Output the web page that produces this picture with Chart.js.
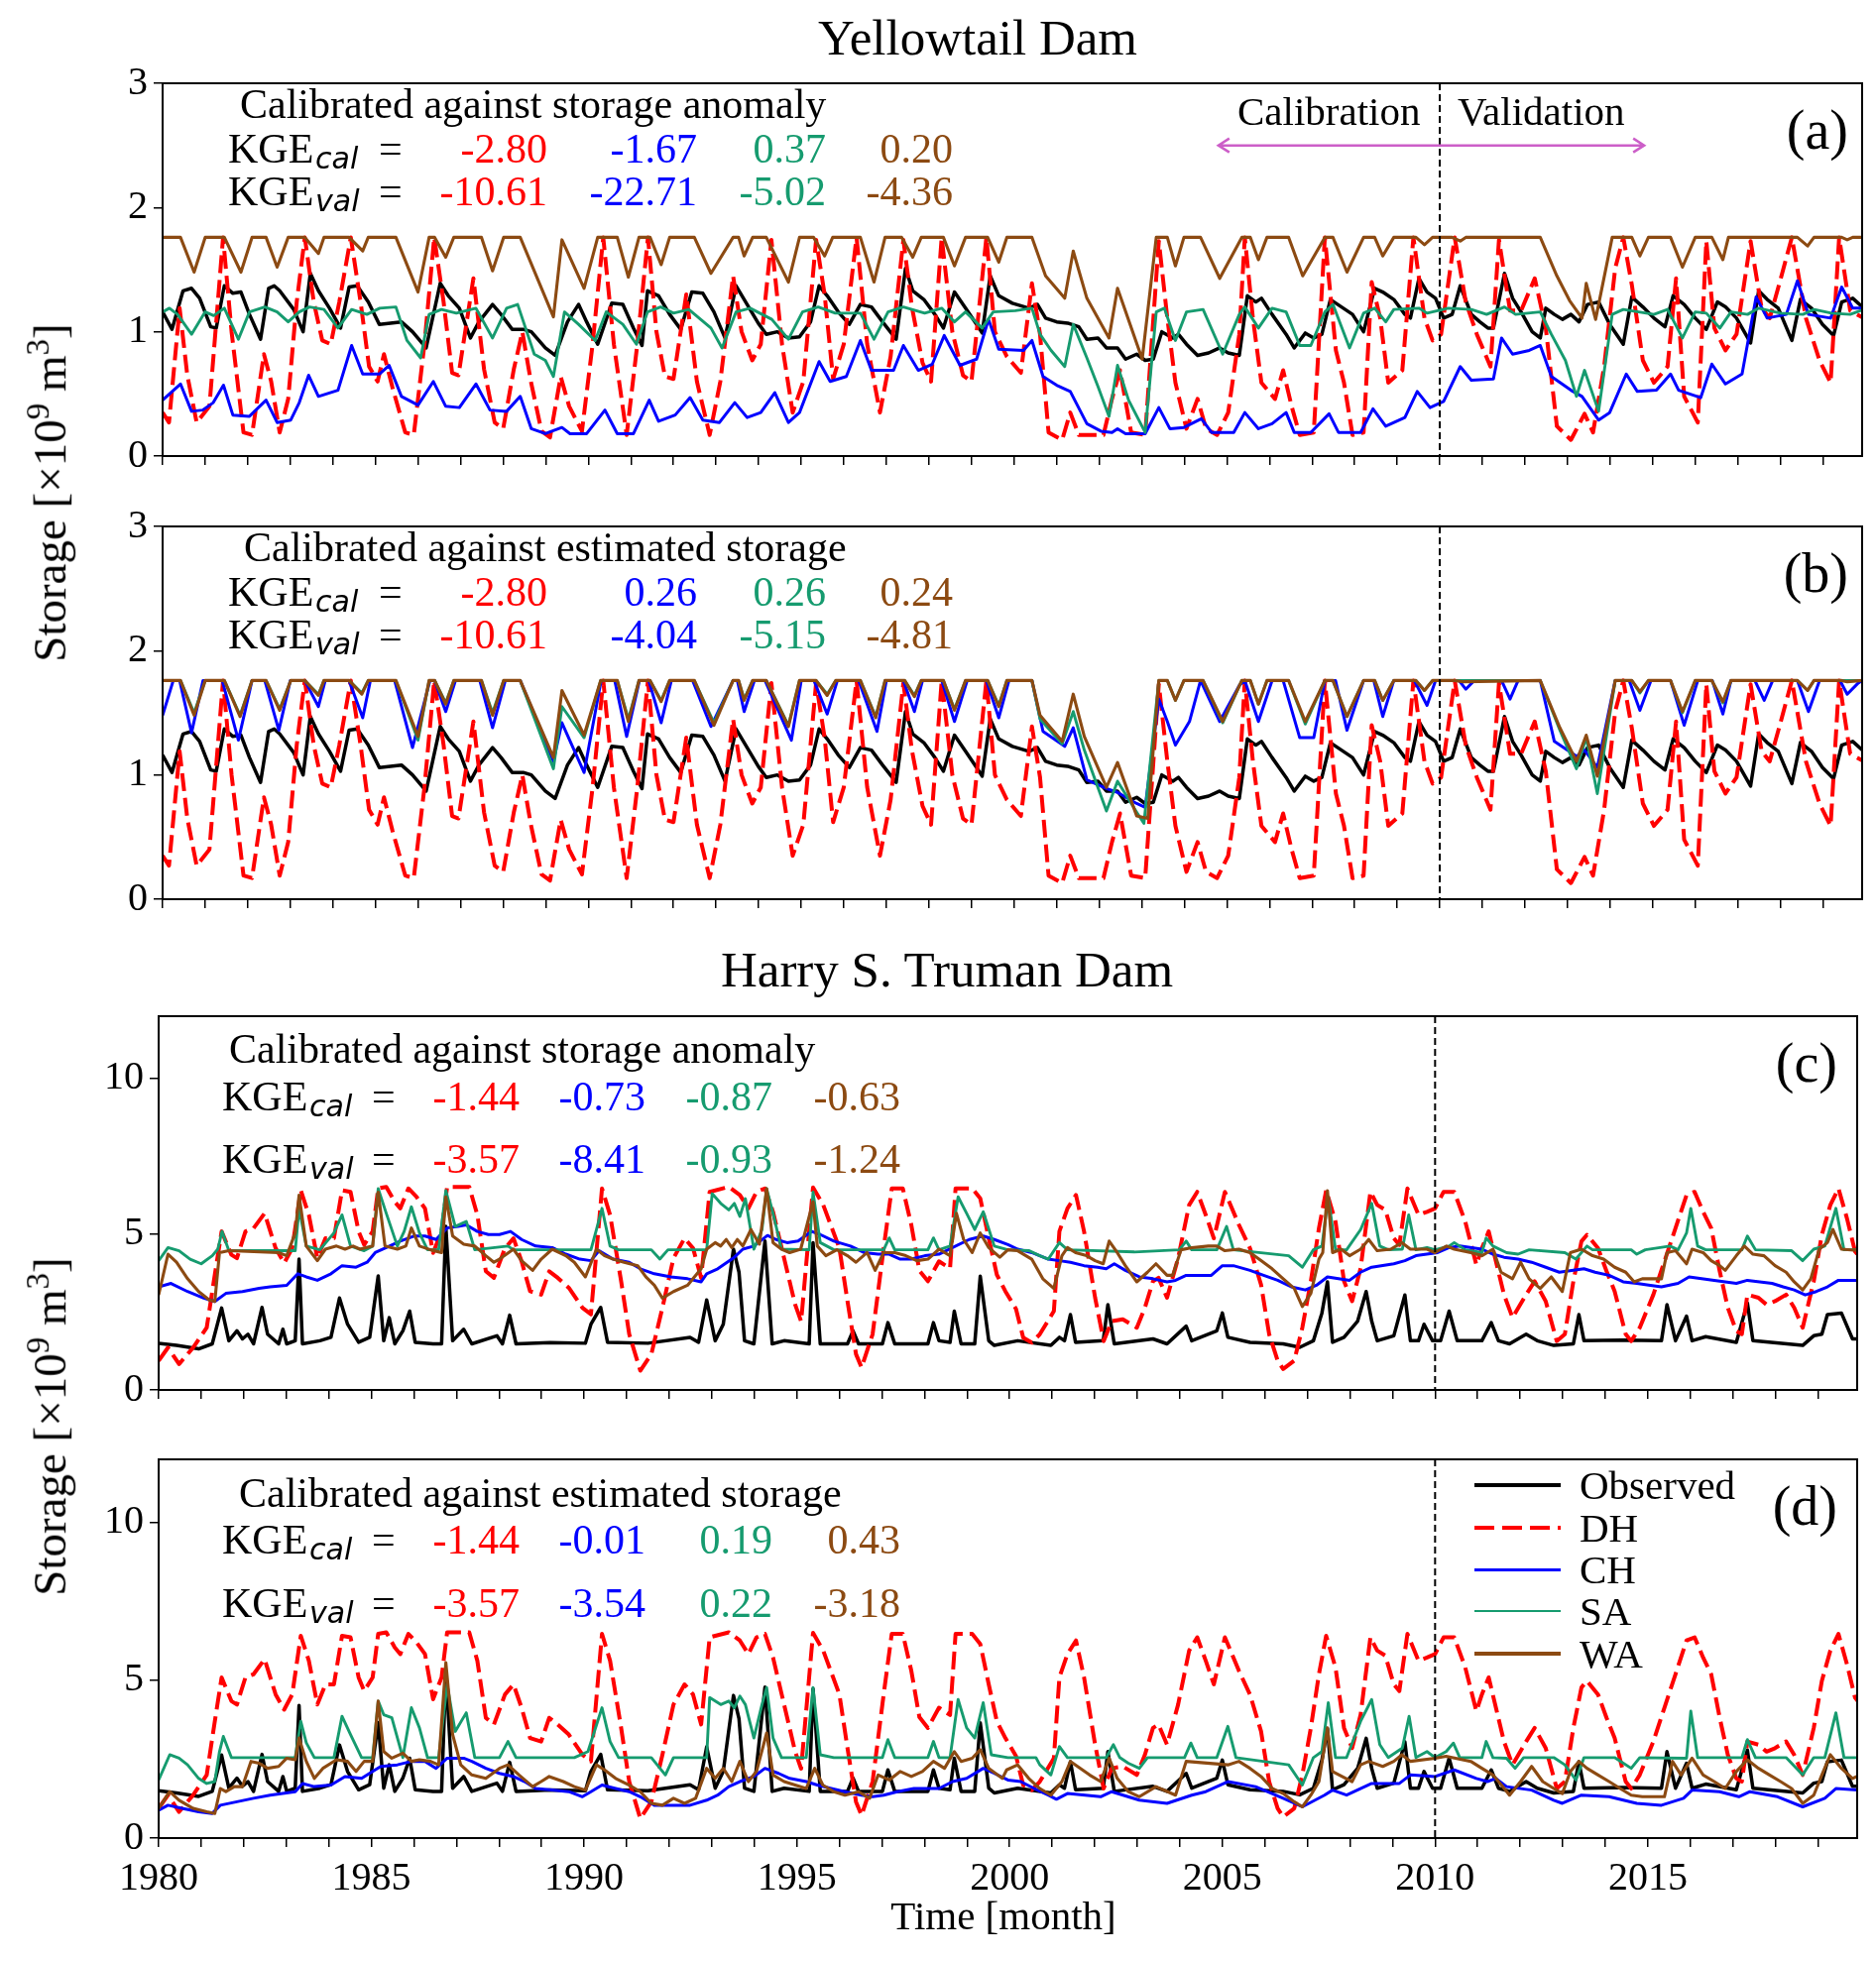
<!DOCTYPE html>
<html>
<head>
<meta charset="utf-8">
<title>Yellowtail Dam / Harry S. Truman Dam storage</title>
<script src="https://cdn.jsdelivr.net/npm/chart.js@4.4.1/dist/chart.umd.min.js"></script>
<style>
  html, body { margin: 0; padding: 0; background: #fff; }
  body { position: relative; width: 1892px; height: 1978px; overflow: hidden;
         font-family: "Liberation Serif", "Times New Roman", serif; color: #000; }
  .panel { position: absolute; left: 0; }
  .t { position: absolute; white-space: nowrap; line-height: 1; z-index: 2; }
  .sub { font-family: "DejaVu Sans", sans-serif; font-style: italic; }
  .ylab { position: absolute; white-space: nowrap; line-height: 1; font-size: 47px;
          font-family: "Liberation Serif", "Times New Roman", serif;
          transform: translate(-50%, -50%) rotate(-90deg); z-index: 2; }
  .ylab sup { font-size: 33px; font-family: "Liberation Serif", serif; }
  .legline { position: absolute; z-index: 2; }
</style>
</head>
<body>
<script>
// ---- ticks and labels ----
const xTickYears = Array.from({ length: 40 }, (_, i) => 1980 + i);
const yTicksYellowtail = [0, 1, 2, 3];
const yTicksTruman = [0, 5, 10];
const splitYear = 2010;
const seriesNames = ['Observed', 'DH', 'CH', 'SA', 'WA'];
const seriesColors = ['#000000', '#ff0000', '#0000ff', '#169b6f', '#8c4a12'];

const kgeCalA = ['-2.80', '-1.67', '0.37', '0.20'];
const kgeValA = ['-10.61', '-22.71', '-5.02', '-4.36'];
const kgeCalB = ['-2.80', '0.26', '0.26', '0.24'];
const kgeValB = ['-10.61', '-4.04', '-5.15', '-4.81'];
const kgeCalC = ['-1.44', '-0.73', '-0.87', '-0.63'];
const kgeValC = ['-3.57', '-8.41', '-0.93', '-1.24'];
const kgeCalD = ['-1.44', '-0.01', '0.19', '0.43'];
const kgeValD = ['-3.57', '-3.54', '0.22', '-3.18'];

// calibration / validation arrow in panel (a)
const arrowFrom = 2004.8, arrowTo = 2014.8, arrowLevel = 2.5;

// ---- Yellowtail Dam storage [1e9 m3], [year, value] ----
const yellowtailObserved = [
  [1980.00,1.16],[1980.22,1.02],[1980.48,1.33],[1980.68,1.35],[1980.87,1.27],[1981.13,1.04],[1981.26,1.03],
  [1981.45,1.37],[1981.65,1.31],[1981.84,1.32],[1982.04,1.14],[1982.30,0.94],[1982.49,1.35],[1982.62,1.37],
  [1982.75,1.33],[1983.08,1.18],[1983.30,1.00],[1983.47,1.47],[1983.66,1.33],[1983.92,1.19],[1984.18,1.03],
  [1984.38,1.36],[1984.57,1.37],[1984.83,1.24],[1985.09,1.06],[1985.35,1.07],[1985.61,1.08],[1985.87,1.00],
  [1986.19,0.87],[1986.52,1.39],[1986.71,1.29],[1986.97,1.19],[1987.23,0.95],[1987.43,1.08],[1987.75,1.22],
  [1987.95,1.14],[1988.21,1.02],[1988.47,1.02],[1988.66,1.00],[1988.99,0.87],[1989.22,0.81],[1989.51,1.08],
  [1989.77,1.22],[1989.96,1.08],[1990.22,0.90],[1990.55,1.23],[1990.81,1.22],[1991.06,1.03],[1991.26,0.89],
  [1991.39,1.33],[1991.65,1.29],[1991.91,1.14],[1992.17,1.02],[1992.43,1.32],[1992.69,1.31],[1992.95,1.16],
  [1993.21,0.95],[1993.47,1.37],[1993.73,1.22],[1993.99,1.07],[1994.18,0.98],[1994.44,1.00],[1994.70,0.95],
  [1994.96,0.96],[1995.22,1.08],[1995.42,1.37],[1995.61,1.29],[1995.87,1.16],[1996.13,1.06],[1996.39,1.22],
  [1996.65,1.20],[1996.91,1.08],[1997.23,0.94],[1997.45,1.51],[1997.62,1.33],[1997.88,1.26],[1998.14,1.14],
  [1998.34,1.03],[1998.60,1.32],[1998.86,1.19],[1999.12,1.06],[1999.25,0.99],[1999.44,1.45],[1999.64,1.29],
  [1999.96,1.23],[2000.35,1.19],[2000.55,1.22],[2000.74,1.11],[2001.00,1.08],[2001.26,1.07],[2001.52,1.04],
  [2001.71,0.94],[2001.97,0.95],[2002.17,0.87],[2002.43,0.87],[2002.62,0.78],[2002.88,0.82],[2003.08,0.77],
  [2003.27,0.78],[2003.47,1.00],[2003.73,0.95],[2003.86,0.98],[2004.05,0.90],[2004.31,0.81],[2004.57,0.83],
  [2004.83,0.87],[2005.03,0.83],[2005.29,0.81],[2005.48,1.29],[2005.68,1.24],[2005.81,1.27],[2006.06,1.14],
  [2006.39,0.98],[2006.58,0.87],[2006.84,0.99],[2007.04,0.95],[2007.23,0.98],[2007.43,1.26],[2007.69,1.20],
  [2007.95,1.14],[2008.21,1.00],[2008.47,1.35],[2008.66,1.32],[2008.92,1.26],[2009.18,1.14],[2009.31,1.11],
  [2009.51,1.43],[2009.70,1.32],[2009.90,1.27],[2010.09,1.11],[2010.29,1.14],[2010.48,1.37],[2010.74,1.14],
  [2010.94,1.08],[2011.13,1.03],[2011.26,1.03],[2011.52,1.47],[2011.71,1.27],[2011.91,1.16],[2012.17,1.00],
  [2012.36,0.95],[2012.49,1.19],[2012.69,1.14],[2012.88,1.10],[2013.08,1.14],[2013.27,1.08],[2013.47,1.22],
  [2013.73,1.24],[2013.99,1.06],[2014.31,0.90],[2014.51,1.28],[2014.77,1.20],[2015.03,1.11],[2015.29,1.04],
  [2015.48,1.29],[2015.74,1.22],[2016.00,1.11],[2016.26,1.02],[2016.52,1.24],[2016.71,1.20],[2016.97,1.11],
  [2017.30,0.91],[2017.49,1.33],[2017.69,1.26],[2017.95,1.19],[2018.27,0.93],[2018.47,1.26],[2018.73,1.19],
  [2018.99,1.06],[2019.25,0.97],[2019.44,1.24],[2019.70,1.27],[2019.96,1.19]
];
const yellowtailDH = [
  [1980.00,0.35],[1980.15,0.27],[1980.40,1.19],[1980.58,0.65],[1980.80,0.27],[1981.10,0.40],[1981.42,1.76],
  [1981.62,1.00],[1981.90,0.19],[1982.10,0.17],[1982.38,0.82],[1982.55,0.60],[1982.75,0.19],[1982.95,0.46],
  [1983.15,1.24],[1983.34,1.76],[1983.55,1.24],[1983.75,0.93],[1983.95,0.90],[1984.15,1.24],[1984.42,1.76],
  [1984.65,1.24],[1984.85,0.72],[1985.05,0.60],[1985.20,0.82],[1985.40,0.55],[1985.70,0.19],[1985.90,0.17],
  [1986.15,0.90],[1986.38,1.76],[1986.60,1.24],[1986.80,0.67],[1986.95,0.65],[1987.30,1.43],[1987.55,0.70],
  [1987.80,0.27],[1988.00,0.22],[1988.25,0.70],[1988.45,1.00],[1988.65,0.60],[1988.90,0.20],[1989.10,0.15],
  [1989.35,0.64],[1989.55,0.40],[1989.85,0.20],[1990.10,0.90],[1990.35,1.76],[1990.60,0.90],[1990.90,0.17],
  [1991.15,0.90],[1991.40,1.76],[1991.60,1.00],[1991.80,0.64],[1992.00,0.62],[1992.30,1.30],[1992.55,0.60],
  [1992.85,0.17],[1993.10,0.60],[1993.40,1.45],[1993.60,1.00],[1993.85,0.77],[1994.05,0.90],[1994.30,1.74],
  [1994.55,0.90],[1994.80,0.35],[1995.05,0.60],[1995.35,1.74],[1995.55,1.30],[1995.75,0.62],[1996.00,0.90],
  [1996.30,1.76],[1996.55,0.90],[1996.85,0.35],[1997.10,0.80],[1997.40,1.74],[1997.60,1.20],[1997.85,0.75],
  [1998.05,0.60],[1998.30,1.76],[1998.55,1.00],[1998.80,0.65],[1999.00,0.60],[1999.35,1.76],[1999.55,1.00],
  [1999.83,0.80],[2000.16,0.67],[2000.42,1.39],[2000.61,0.98],[2000.81,0.19],[2001.13,0.13],[2001.32,0.35],
  [2001.52,0.17],[2002.10,0.17],[2002.30,0.46],[2002.49,0.69],[2002.75,0.19],[2003.08,0.17],[2003.40,1.73],
  [2003.60,1.11],[2003.79,0.59],[2004.05,0.22],[2004.31,0.46],[2004.51,0.22],[2004.77,0.17],[2005.03,0.35],
  [2005.29,0.98],[2005.42,1.76],[2005.61,1.11],[2005.81,0.59],[2006.13,0.46],[2006.32,0.69],[2006.52,0.40],
  [2006.71,0.17],[2007.04,0.19],[2007.30,1.76],[2007.56,0.85],[2007.75,0.59],[2007.95,0.17],[2008.21,0.19],
  [2008.40,1.40],[2008.60,1.11],[2008.79,0.59],[2009.12,0.69],[2009.38,1.76],[2009.64,1.11],[2009.83,0.93],
  [2010.03,0.98],[2010.35,1.76],[2010.61,1.24],[2010.87,0.98],[2011.19,0.72],[2011.39,1.74],[2011.65,1.17],
  [2011.91,1.17],[2012.23,1.43],[2012.49,1.03],[2012.75,0.24],[2013.08,0.13],[2013.40,0.34],[2013.60,0.19],
  [2013.86,0.72],[2014.12,1.51],[2014.31,1.76],[2014.51,1.38],[2014.77,0.77],[2015.03,0.59],[2015.35,0.72],
  [2015.55,1.43],[2015.74,0.48],[2016.06,0.27],[2016.26,1.73],[2016.45,1.03],[2016.71,0.85],[2016.97,0.98],
  [2017.30,1.73],[2017.56,1.19],[2017.75,1.11],[2018.01,1.43],[2018.27,1.76],[2018.60,1.11],[2018.92,0.77],
  [2019.18,0.59],[2019.38,1.76],[2019.64,1.17],[2019.96,1.11]
];
const yellowtailCH_a = [
  [1980.00,0.45],[1980.42,0.58],[1980.68,0.36],[1980.94,0.37],[1981.19,0.43],[1981.43,0.57],[1981.65,0.33],
  [1982.04,0.32],[1982.43,0.45],[1982.69,0.27],[1983.01,0.29],[1983.21,0.43],[1983.43,0.65],[1983.66,0.48],
  [1984.12,0.53],[1984.44,0.89],[1984.70,0.66],[1985.09,0.66],[1985.32,0.73],[1985.61,0.48],[1986.00,0.41],
  [1986.36,0.60],[1986.65,0.40],[1986.97,0.39],[1987.36,0.58],[1987.69,0.37],[1988.08,0.36],[1988.40,0.48],
  [1988.66,0.22],[1988.99,0.18],[1989.38,0.23],[1989.57,0.18],[1989.96,0.18],[1990.39,0.37],[1990.68,0.18],
  [1991.06,0.18],[1991.43,0.45],[1991.65,0.28],[1992.04,0.33],[1992.39,0.47],[1992.69,0.29],[1993.08,0.27],
  [1993.44,0.43],[1993.73,0.31],[1994.05,0.35],[1994.38,0.51],[1994.70,0.27],[1994.96,0.35],[1995.42,0.76],
  [1995.68,0.60],[1996.06,0.64],[1996.39,0.93],[1996.65,0.69],[1997.17,0.69],[1997.40,0.89],[1997.75,0.69],
  [1998.08,0.74],[1998.36,0.97],[1998.73,0.73],[1999.12,0.78],[1999.40,1.10],[1999.64,0.86],[2000.22,0.85],
  [2000.42,0.93],[2000.68,0.64],[2001.00,0.57],[2001.32,0.52],[2001.71,0.26],[2002.04,0.20],[2002.30,0.19],
  [2002.43,0.22],[2002.62,0.18],[2003.08,0.18],[2003.40,0.39],[2003.66,0.22],[2003.99,0.23],[2004.40,0.30],
  [2004.64,0.19],[2005.16,0.19],[2005.42,0.35],[2005.74,0.22],[2006.06,0.26],[2006.39,0.35],[2006.58,0.19],
  [2006.97,0.19],[2007.40,0.34],[2007.62,0.19],[2008.14,0.19],[2008.43,0.38],[2008.73,0.24],[2009.18,0.31],
  [2009.47,0.52],[2009.77,0.39],[2010.09,0.44],[2010.48,0.72],[2010.74,0.61],[2011.26,0.62],[2011.45,0.95],
  [2011.71,0.82],[2012.10,0.85],[2012.36,0.89],[2012.62,0.64],[2013.08,0.53],[2013.34,0.48],[2013.73,0.29],
  [2013.99,0.35],[2014.38,0.66],[2014.64,0.52],[2015.09,0.53],[2015.42,0.66],[2015.61,0.53],[2016.13,0.47],
  [2016.39,0.74],[2016.71,0.58],[2017.10,0.66],[2017.43,1.28],[2017.69,1.11],[2018.14,1.14],[2018.40,1.41],
  [2018.66,1.14],[2019.18,1.11],[2019.44,1.36],[2019.70,1.19],[2019.96,1.19]
];
const yellowtailSA_a = [
  [1980.00,1.16],[1980.16,1.19],[1980.35,1.14],[1980.68,0.98],[1981.00,1.16],[1981.20,1.13],[1981.45,1.19],
  [1981.78,0.94],[1982.04,1.16],[1982.40,1.20],[1982.69,1.16],[1982.95,1.08],[1983.21,1.16],[1983.45,1.20],
  [1983.79,1.18],[1984.12,1.03],[1984.44,1.18],[1984.80,1.14],[1985.10,1.19],[1985.48,1.20],[1985.74,0.93],
  [1986.06,0.79],[1986.26,1.14],[1986.55,1.18],[1986.90,1.15],[1987.36,1.19],[1987.75,0.95],[1988.08,1.19],
  [1988.34,1.22],[1988.73,0.82],[1988.99,0.77],[1989.18,0.64],[1989.44,1.16],[1989.77,1.06],[1990.16,0.93],
  [1990.42,1.16],[1990.81,1.06],[1991.13,0.90],[1991.39,1.16],[1991.70,1.20],[1992.00,1.15],[1992.36,1.18],
  [1992.88,1.03],[1993.14,0.87],[1993.47,1.16],[1993.80,1.19],[1994.31,1.10],[1994.70,0.94],[1995.03,1.16],
  [1995.40,1.20],[1995.80,1.15],[1996.39,1.15],[1996.71,0.94],[1997.04,1.16],[1997.40,1.20],[1997.90,1.15],
  [1998.30,1.19],[1998.60,1.08],[1998.86,1.16],[1999.25,1.03],[1999.51,1.16],[2000.03,1.17],[2000.42,1.19],
  [2000.61,0.98],[2000.87,0.85],[2001.19,0.72],[2001.39,1.06],[2001.71,0.79],[2001.97,0.56],[2002.23,0.32],
  [2002.43,0.73],[2002.69,0.45],[2003.08,0.19],[2003.34,1.16],[2003.53,1.19],[2003.79,0.93],[2004.05,1.16],
  [2004.44,1.18],[2004.90,0.82],[2005.29,1.14],[2005.42,1.20],[2005.74,1.03],[2006.06,1.19],[2006.39,1.16],
  [2006.71,0.89],[2006.97,0.89],[2007.30,1.16],[2007.49,1.22],[2007.88,0.87],[2008.21,1.15],[2008.47,1.19],
  [2008.73,1.08],[2008.92,1.18],[2009.51,1.19],[2009.70,1.15],[2010.20,1.19],[2010.74,1.18],[2011.10,1.14],
  [2011.52,1.20],[2011.78,1.14],[2012.36,1.16],[2012.62,0.98],[2012.95,0.77],[2013.21,0.48],[2013.40,0.69],
  [2013.73,0.36],[2014.05,1.14],[2014.31,1.18],[2015.03,1.14],[2015.35,1.18],[2015.70,0.95],[2016.00,1.16],
  [2016.26,1.15],[2016.58,1.03],[2016.84,1.16],[2017.23,1.14],[2017.49,1.19],[2018.00,1.15],[2018.53,1.14],
  [2018.79,1.18],[2019.20,1.15],[2019.64,1.14],[2019.96,1.18]
];
const yellowtailWA_a = [
  [1980.00,1.76],[1980.42,1.76],[1980.74,1.48],[1981.00,1.76],[1981.45,1.76],[1981.84,1.48],[1982.10,1.76],
  [1982.43,1.76],[1982.69,1.52],[1982.95,1.76],[1983.34,1.76],[1983.66,1.63],[1983.79,1.76],[1984.38,1.76],
  [1984.70,1.65],[1984.83,1.76],[1985.48,1.76],[1986.00,1.32],[1986.26,1.76],[1986.39,1.76],[1986.65,1.60],
  [1986.84,1.76],[1987.49,1.76],[1987.75,1.49],[1988.01,1.76],[1988.40,1.76],[1989.18,1.12],[1989.38,1.74],
  [1989.90,1.35],[1990.22,1.76],[1990.68,1.76],[1990.94,1.44],[1991.19,1.76],[1991.45,1.76],[1991.71,1.54],
  [1991.91,1.76],[1992.49,1.76],[1992.88,1.47],[1993.40,1.76],[1993.53,1.76],[1993.66,1.61],[1993.86,1.76],
  [1994.18,1.76],[1994.70,1.40],[1994.96,1.76],[1995.29,1.76],[1995.55,1.61],[1995.74,1.76],[1996.39,1.76],
  [1996.71,1.40],[1996.97,1.76],[1997.36,1.76],[1997.62,1.60],[1997.82,1.76],[1998.34,1.76],[1998.60,1.53],
  [1998.86,1.76],[1999.38,1.76],[1999.64,1.56],[1999.83,1.76],[2000.42,1.76],[2000.74,1.45],[2001.19,1.27],
  [2001.39,1.65],[2001.71,1.27],[2002.23,0.95],[2002.43,1.35],[2003.01,0.78],[2003.34,1.76],[2003.60,1.76],
  [2003.79,1.53],[2003.99,1.76],[2004.38,1.76],[2004.83,1.43],[2005.35,1.76],[2005.55,1.76],[2005.74,1.58],
  [2005.94,1.76],[2006.45,1.76],[2006.78,1.45],[2007.30,1.76],[2007.49,1.76],[2007.82,1.48],[2008.21,1.76],
  [2008.47,1.76],[2008.66,1.61],[2008.92,1.76],[2009.44,1.76],[2009.64,1.70],[2009.83,1.76],[2010.29,1.76],
  [2010.48,1.73],[2010.61,1.76],[2012.36,1.76],[2012.75,1.45],[2013.05,1.25],[2013.34,1.11],[2013.44,1.39],
  [2013.66,1.10],[2014.05,1.76],[2014.51,1.76],[2014.70,1.61],[2014.90,1.76],[2015.42,1.76],[2015.70,1.52],
  [2016.00,1.76],[2016.39,1.76],[2016.65,1.58],[2016.78,1.76],[2018.40,1.76],[2018.64,1.69],[2018.79,1.76],
  [2019.44,1.76],[2019.57,1.74],[2019.70,1.76],[2019.92,1.76]
];
const yellowtailCH_b = [
  [1980.00,1.48],[1980.25,1.76],[1980.40,1.76],[1980.68,1.34],[1980.95,1.76],[1981.40,1.76],[1981.78,1.28],
  [1982.10,1.76],[1982.40,1.76],[1982.73,1.36],[1983.00,1.76],[1983.34,1.76],[1983.66,1.55],[1983.82,1.76],
  [1984.38,1.76],[1984.70,1.46],[1984.88,1.76],[1985.45,1.76],[1985.87,1.22],[1986.28,1.76],[1986.39,1.76],
  [1986.65,1.51],[1986.88,1.76],[1987.45,1.76],[1987.75,1.38],[1988.05,1.76],[1988.40,1.76],[1989.18,1.11],
  [1989.38,1.42],[1989.90,1.02],[1990.30,1.76],[1990.62,1.76],[1990.90,1.31],[1991.20,1.76],[1991.42,1.76],
  [1991.71,1.42],[1991.95,1.76],[1992.45,1.76],[1992.88,1.39],[1993.40,1.76],[1993.50,1.76],[1993.66,1.51],
  [1993.90,1.76],[1994.15,1.76],[1994.77,1.28],[1995.00,1.76],[1995.30,1.76],[1995.61,1.49],[1995.85,1.76],
  [1996.35,1.76],[1996.78,1.35],[1997.00,1.76],[1997.40,1.76],[1997.66,1.51],[1997.85,1.76],[1998.30,1.76],
  [1998.60,1.43],[1998.90,1.76],[1999.35,1.76],[1999.64,1.46],[1999.88,1.76],[2000.42,1.76],[2000.68,1.35],
  [2001.19,1.23],[2001.39,1.38],[2001.71,0.96],[2002.17,0.89],[2002.43,0.86],[2002.88,0.77],[2003.08,0.74],
  [2003.40,1.61],[2003.60,1.43],[2003.79,1.24],[2004.12,1.43],[2004.38,1.76],[2004.83,1.43],[2005.29,1.72],
  [2005.42,1.76],[2005.74,1.43],[2006.06,1.76],[2006.32,1.76],[2006.71,1.30],[2007.04,1.30],[2007.30,1.76],
  [2007.55,1.76],[2007.82,1.36],[2008.21,1.76],[2008.45,1.76],[2008.66,1.47],[2008.92,1.76],[2009.40,1.76],
  [2009.70,1.56],[2009.90,1.76],[2010.45,1.76],[2010.61,1.69],[2010.81,1.76],[2011.45,1.76],[2011.65,1.61],
  [2011.84,1.76],[2012.36,1.76],[2012.69,1.27],[2013.21,1.15],[2013.40,1.20],[2013.70,1.06],[2014.12,1.76],
  [2014.45,1.76],[2014.70,1.52],[2014.96,1.76],[2015.42,1.76],[2015.74,1.40],[2016.06,1.76],[2016.40,1.76],
  [2016.65,1.49],[2016.84,1.76],[2017.40,1.76],[2017.62,1.60],[2017.82,1.76],[2018.40,1.76],[2018.66,1.51],
  [2018.92,1.76],[2019.40,1.76],[2019.57,1.65],[2019.83,1.74],[2019.92,1.76]
];
const yellowtailSA_b = [
  [1980.00,1.76],[1980.42,1.76],[1980.74,1.50],[1981.00,1.76],[1981.45,1.76],[1981.82,1.48],[1982.10,1.76],
  [1982.43,1.76],[1982.75,1.53],[1983.01,1.76],[1983.34,1.76],[1983.66,1.65],[1983.79,1.76],[1984.38,1.76],
  [1984.68,1.66],[1984.83,1.76],[1985.48,1.76],[1986.00,1.28],[1986.26,1.76],[1986.39,1.76],[1986.65,1.58],
  [1986.84,1.76],[1987.49,1.76],[1987.75,1.50],[1988.01,1.76],[1988.40,1.76],[1989.18,1.05],[1989.38,1.55],
  [1989.90,1.30],[1990.29,1.76],[1990.68,1.76],[1990.94,1.45],[1991.19,1.76],[1991.45,1.76],[1991.71,1.60],
  [1991.91,1.76],[1992.49,1.76],[1992.95,1.42],[1993.40,1.76],[1993.53,1.76],[1993.66,1.61],[1993.86,1.76],
  [1994.18,1.76],[1994.70,1.40],[1994.96,1.76],[1995.35,1.76],[1995.61,1.65],[1995.81,1.76],[1996.39,1.76],
  [1996.75,1.47],[1996.97,1.76],[1997.43,1.76],[1997.66,1.64],[1997.82,1.76],[1998.34,1.76],[1998.60,1.53],
  [1998.86,1.76],[1999.38,1.76],[1999.64,1.56],[1999.83,1.76],[2000.42,1.76],[2000.61,1.45],[2001.13,1.25],
  [2001.39,1.51],[2001.65,1.20],[2002.17,0.71],[2002.43,0.95],[2002.88,0.70],[2003.05,0.61],[2003.40,1.76],
  [2003.60,1.76],[2003.79,1.60],[2003.99,1.76],[2004.44,1.76],[2004.90,1.42],[2005.35,1.76],[2005.55,1.76],
  [2005.74,1.57],[2005.94,1.76],[2006.45,1.76],[2006.84,1.41],[2007.30,1.76],[2007.49,1.76],[2007.82,1.47],
  [2008.21,1.76],[2008.47,1.76],[2008.66,1.60],[2008.92,1.76],[2009.44,1.76],[2009.64,1.68],[2009.83,1.76],
  [2012.36,1.76],[2012.82,1.36],[2013.21,1.05],[2013.44,1.30],[2013.70,0.85],[2014.12,1.76],[2014.51,1.76],
  [2014.70,1.66],[2014.90,1.76],[2015.42,1.76],[2015.70,1.50],[2016.00,1.76],[2016.39,1.76],[2016.65,1.58],
  [2016.84,1.76],[2018.40,1.76],[2018.64,1.68],[2018.79,1.76],[2019.92,1.76]
];
const yellowtailWA_b = [
  [1980.00,1.76],[1980.42,1.76],[1980.74,1.48],[1981.00,1.76],[1981.45,1.76],[1981.82,1.47],[1982.10,1.76],
  [1982.43,1.76],[1982.75,1.52],[1983.01,1.76],[1983.34,1.76],[1983.66,1.64],[1983.79,1.76],[1984.38,1.76],
  [1984.68,1.65],[1984.83,1.76],[1985.48,1.76],[1986.00,1.31],[1986.26,1.76],[1986.39,1.76],[1986.65,1.57],
  [1986.84,1.76],[1987.49,1.76],[1987.75,1.48],[1988.01,1.76],[1988.40,1.76],[1989.18,1.14],[1989.38,1.68],
  [1989.90,1.32],[1990.29,1.76],[1990.68,1.76],[1990.94,1.43],[1991.19,1.76],[1991.45,1.76],[1991.71,1.59],
  [1991.91,1.76],[1992.49,1.76],[1992.95,1.40],[1993.40,1.76],[1993.53,1.76],[1993.66,1.60],[1993.86,1.76],
  [1994.18,1.76],[1994.70,1.39],[1994.96,1.76],[1995.35,1.76],[1995.61,1.64],[1995.81,1.76],[1996.39,1.76],
  [1996.75,1.46],[1996.97,1.76],[1997.43,1.76],[1997.66,1.63],[1997.82,1.76],[1998.34,1.76],[1998.60,1.52],
  [1998.86,1.76],[1999.38,1.76],[1999.64,1.55],[1999.83,1.76],[2000.42,1.76],[2000.61,1.48],[2001.13,1.27],
  [2001.39,1.65],[2001.65,1.31],[2002.17,0.90],[2002.43,1.10],[2002.88,0.67],[2003.14,0.65],[2003.40,1.76],
  [2003.60,1.76],[2003.79,1.60],[2003.99,1.76],[2004.44,1.76],[2004.90,1.43],[2005.35,1.76],[2005.55,1.76],
  [2005.74,1.57],[2005.94,1.76],[2006.45,1.76],[2006.84,1.43],[2007.30,1.76],[2007.49,1.76],[2007.82,1.47],
  [2008.21,1.76],[2008.47,1.76],[2008.66,1.60],[2008.92,1.76],[2009.44,1.76],[2009.64,1.68],[2009.83,1.76],
  [2010.35,1.76],[2010.55,1.75],[2012.36,1.76],[2012.82,1.38],[2013.21,1.11],[2013.44,1.32],[2013.70,0.99],
  [2014.12,1.76],[2014.51,1.76],[2014.70,1.67],[2014.90,1.76],[2015.42,1.76],[2015.70,1.51],[2016.00,1.76],
  [2016.39,1.76],[2016.65,1.59],[2016.84,1.76],[2018.40,1.76],[2018.64,1.68],[2018.79,1.76],[2019.44,1.76],
  [2019.57,1.75],[2019.92,1.76]
];

// ---- Harry S. Truman Dam storage [1e9 m3], [year, value] ----
const trumanObserved = [
  [1980.00,1.50],[1980.42,1.43],[1980.94,1.32],[1981.26,1.48],[1981.48,2.63],[1981.65,1.58],[1981.84,1.90],
  [1981.97,1.64],[1982.10,1.79],[1982.23,1.48],[1982.43,2.65],[1982.56,1.79],[1982.82,1.48],[1982.92,1.95],
  [1983.01,1.48],[1983.21,1.58],[1983.30,4.20],[1983.38,1.48],[1983.79,1.58],[1984.05,1.69],[1984.25,2.95],
  [1984.44,2.11],[1984.70,1.53],[1984.96,1.69],[1985.16,3.66],[1985.29,1.58],[1985.42,2.32],[1985.55,1.48],
  [1985.74,1.90],[1985.90,2.53],[1986.03,1.53],[1986.45,1.48],[1986.65,1.48],[1986.75,5.25],[1986.91,1.58],
  [1987.17,1.95],[1987.36,1.48],[1987.95,1.74],[1988.08,1.48],[1988.25,2.40],[1988.40,1.48],[1989.20,1.52],
  [1990.03,1.50],[1990.16,2.11],[1990.39,2.65],[1990.55,1.53],[1991.50,1.50],[1992.49,1.69],[1992.69,1.53],
  [1992.88,2.89],[1993.08,1.58],[1993.27,2.11],[1993.51,4.52],[1993.64,3.78],[1993.77,1.58],[1993.99,1.48],
  [1994.25,4.78],[1994.42,1.48],[1994.70,1.58],[1995.29,1.48],[1995.38,4.73],[1995.55,1.48],[1996.19,1.48],
  [1996.32,1.90],[1996.45,1.48],[1997.01,1.48],[1997.14,2.16],[1997.30,1.48],[1998.08,1.48],[1998.21,2.16],
  [1998.34,1.58],[1998.60,1.53],[1998.70,2.53],[1998.86,1.48],[1999.18,1.48],[1999.31,3.65],[1999.51,1.58],
  [1999.64,1.43],[2000.19,1.58],[2000.97,1.43],[2001.17,1.69],[2001.29,1.58],[2001.43,2.42],[2001.55,1.53],
  [2002.20,1.58],[2002.31,2.74],[2002.46,1.48],[2003.37,1.64],[2003.70,1.48],[2004.15,2.05],[2004.28,1.58],
  [2004.87,1.90],[2005.00,2.47],[2005.13,1.69],[2005.65,1.53],[2006.43,1.48],[2006.82,1.37],[2007.14,1.58],
  [2007.34,2.47],[2007.47,3.47],[2007.59,1.53],[2007.86,1.69],[2008.18,2.21],[2008.38,3.16],[2008.51,2.21],
  [2008.64,1.58],[2009.03,1.74],[2009.29,3.05],[2009.42,1.58],[2009.61,1.58],[2009.74,2.11],[2009.94,1.58],
  [2010.13,1.58],[2010.33,2.53],[2010.52,1.58],[2011.10,1.58],[2011.32,2.16],[2011.49,1.58],[2011.75,1.48],
  [2012.14,1.79],[2012.40,1.58],[2012.79,1.43],[2013.25,1.48],[2013.38,2.42],[2013.50,1.58],[2014.40,1.60],
  [2015.32,1.58],[2015.45,2.74],[2015.65,1.58],[2015.91,2.37],[2016.04,1.58],[2016.36,1.71],[2017.08,1.53],
  [2017.34,2.79],[2017.47,1.58],[2018.64,1.43],[2018.90,1.74],[2019.09,1.79],[2019.22,2.42],[2019.55,2.47],
  [2019.81,1.64],[2020.00,1.64]
];
const trumanDH = [
  [1980.00,0.94],[1980.22,1.36],[1980.48,0.83],[1980.81,1.36],[1981.13,2.00],[1981.32,3.70],[1981.48,5.09],
  [1981.71,4.34],[1981.84,4.23],[1982.04,5.09],[1982.23,5.19],[1982.49,5.67],[1982.75,4.55],[1982.95,4.07],
  [1983.14,4.55],[1983.34,6.41],[1983.53,5.62],[1983.73,4.23],[1983.92,4.87],[1984.12,4.87],[1984.31,6.41],
  [1984.51,6.36],[1984.70,5.09],[1984.83,4.66],[1985.03,5.09],[1985.16,6.47],[1985.35,6.52],[1985.55,6.04],
  [1985.68,5.83],[1985.87,6.47],[1986.06,6.20],[1986.26,5.83],[1986.45,4.40],[1986.65,5.09],[1986.78,6.52],
  [1987.30,6.52],[1987.49,5.62],[1987.69,3.81],[1987.88,3.60],[1988.14,4.55],[1988.34,4.87],[1988.53,4.13],
  [1988.73,3.17],[1988.99,3.06],[1989.18,3.81],[1989.38,3.60],[1989.64,3.28],[1989.96,2.64],[1990.16,2.43],
  [1990.42,6.47],[1990.61,5.62],[1990.87,3.49],[1991.06,1.79],[1991.32,0.62],[1991.58,1.15],[1991.84,2.64],
  [1992.10,4.23],[1992.36,4.87],[1992.56,4.55],[1992.75,3.60],[1992.95,6.36],[1993.40,6.52],[1993.66,6.26],
  [1993.86,5.83],[1994.05,6.36],[1994.25,6.47],[1994.44,5.72],[1994.70,4.23],[1994.96,2.74],[1995.10,2.20],
  [1995.38,6.50],[1995.62,5.94],[1996.00,4.55],[1996.19,2.85],[1996.39,1.15],[1996.52,0.72],[1996.78,1.79],
  [1997.04,4.55],[1997.23,6.47],[1997.49,6.47],[1997.69,5.30],[1997.88,3.83],[1998.08,3.49],[1998.34,4.13],
  [1998.60,3.90],[1998.73,6.47],[1999.12,6.47],[1999.31,6.15],[1999.51,4.87],[1999.70,3.70],[1999.90,3.17],
  [2000.15,2.60],[2000.32,1.68],[2000.52,1.52],[2000.71,1.79],[2001.04,2.53],[2001.17,5.09],[2001.36,5.83],
  [2001.56,6.26],[2001.75,5.09],[2002.01,2.96],[2002.21,1.57],[2002.40,2.21],[2002.66,2.27],[2002.99,2.00],
  [2003.18,2.64],[2003.37,3.49],[2003.50,3.60],[2003.70,2.96],[2003.96,4.23],[2004.22,5.94],[2004.41,6.36],
  [2004.61,5.62],[2004.80,4.87],[2005.06,6.36],[2005.39,5.30],[2005.65,4.55],[2005.91,3.38],[2006.10,1.79],
  [2006.30,0.94],[2006.43,0.67],[2006.69,0.94],[2006.88,2.00],[2007.08,3.49],[2007.27,5.19],[2007.44,6.41],
  [2007.66,5.40],[2007.86,3.49],[2008.05,2.85],[2008.25,3.91],[2008.48,6.36],[2008.64,5.94],[2008.83,5.78],
  [2009.03,4.87],[2009.16,4.66],[2009.35,6.47],[2009.61,5.62],[2009.81,5.72],[2010.00,5.83],[2010.20,6.36],
  [2010.45,6.36],[2010.71,5.40],[2010.97,4.02],[2011.10,4.55],[2011.26,5.09],[2011.43,4.13],[2011.62,3.06],
  [2011.82,2.32],[2012.14,3.06],[2012.34,3.49],[2012.60,2.85],[2012.86,1.57],[2013.05,1.79],[2013.25,3.49],
  [2013.44,4.77],[2013.57,4.98],[2013.83,4.55],[2014.03,3.81],[2014.22,3.17],[2014.48,1.79],[2014.61,1.57],
  [2014.81,2.00],[2015.13,3.06],[2015.39,4.13],[2015.65,5.19],[2015.91,6.26],[2016.10,6.36],[2016.30,5.72],
  [2016.49,5.19],[2016.69,3.81],[2016.88,2.64],[2017.08,1.89],[2017.21,1.79],[2017.34,3.06],[2017.60,2.96],
  [2017.79,2.74],[2017.99,2.85],[2018.25,3.06],[2018.44,2.64],[2018.64,2.00],[2018.90,3.49],[2019.09,4.98],
  [2019.29,5.94],[2019.48,6.47],[2019.68,5.51],[2019.87,4.45],[2020.00,4.23]
];
const trumanCH_c = [
  [1980.00,3.31],[1980.29,3.42],[1980.68,3.16],[1981.06,2.95],[1981.32,2.84],[1981.58,3.10],[1981.97,3.16],
  [1982.36,3.26],[1982.62,3.31],[1983.01,3.36],[1983.27,3.73],[1983.47,3.63],[1983.73,3.52],[1984.05,3.73],
  [1984.31,3.99],[1984.64,3.94],[1984.90,4.10],[1985.09,4.41],[1985.35,4.57],[1985.68,4.78],[1986.00,4.94],
  [1986.26,4.94],[1986.52,4.83],[1986.78,5.20],[1987.04,5.25],[1987.23,5.30],[1987.49,5.09],[1987.75,4.99],
  [1988.01,4.99],[1988.27,5.09],[1988.53,4.83],[1988.86,4.62],[1989.25,4.57],[1989.57,4.36],[1989.90,4.20],
  [1990.16,4.15],[1990.35,4.47],[1990.68,4.20],[1991.06,4.10],[1991.32,3.89],[1991.65,3.73],[1992.04,3.63],
  [1992.43,3.57],[1992.75,3.47],[1992.88,3.73],[1993.14,3.89],[1993.53,4.26],[1993.73,4.52],[1993.99,4.62],
  [1994.31,4.96],[1994.51,4.83],[1994.77,4.73],[1995.03,4.78],[1995.35,5.09],[1995.55,4.99],[1995.87,4.78],
  [1996.26,4.62],[1996.58,4.41],[1996.91,4.36],[1997.17,4.36],[1997.43,4.20],[1997.69,4.20],[1998.01,4.31],
  [1998.34,4.36],[1998.66,4.57],[1999.05,4.83],[1999.38,4.94],[1999.64,4.83],[1999.96,4.67],[2000.19,4.52],
  [2000.52,4.41],[2000.91,4.20],[2001.17,4.15],[2001.43,4.10],[2001.75,3.99],[2002.07,3.94],[2002.27,3.89],
  [2002.46,4.05],[2002.72,3.84],[2003.05,3.63],[2003.37,3.57],[2003.70,3.47],[2003.90,3.52],[2004.15,3.68],
  [2004.74,3.68],[2005.00,3.99],[2005.26,3.99],[2005.65,3.84],[2005.97,3.68],[2006.30,3.52],[2006.62,3.31],
  [2006.95,3.21],[2007.21,3.36],[2007.47,3.63],[2007.99,3.52],[2008.25,3.78],[2008.51,3.94],[2009.03,4.05],
  [2009.29,4.15],[2009.55,4.31],[2010.06,4.41],[2010.33,4.57],[2010.58,4.62],[2011.10,4.52],[2011.36,4.36],
  [2011.62,4.26],[2011.95,4.20],[2012.27,4.10],[2012.60,3.94],[2012.92,3.78],[2013.50,3.89],[2013.76,3.78],
  [2014.09,3.68],[2014.42,3.47],[2014.74,3.42],[2015.06,3.36],[2015.32,3.31],[2015.71,3.42],[2015.97,3.63],
  [2016.56,3.52],[2017.08,3.42],[2017.34,3.52],[2017.92,3.42],[2018.18,3.31],[2018.44,3.21],[2018.70,3.05],
  [2018.96,3.16],[2019.22,3.31],[2019.48,3.52],[2020.00,3.52]
];
const trumanSA_c = [
  [1980.00,4.15],[1980.22,4.57],[1980.48,4.47],[1980.74,4.20],[1981.00,4.05],[1981.26,4.31],[1981.39,4.52],
  [1981.49,5.09],[1981.65,4.47],[1983.21,4.47],[1983.30,5.83],[1983.47,4.62],[1983.79,4.50],[1984.12,5.04],
  [1984.31,5.62],[1984.51,4.62],[1984.83,4.47],[1985.03,4.62],[1985.16,6.46],[1985.35,5.67],[1985.61,4.62],
  [1985.77,5.09],[1985.94,5.88],[1986.13,5.04],[1986.32,4.50],[1986.58,4.50],[1986.75,6.40],[1986.97,5.25],
  [1987.23,5.41],[1987.43,4.50],[1988.21,4.62],[1988.34,4.50],[1990.16,4.50],[1990.29,5.15],[1990.42,5.83],
  [1990.61,4.62],[1990.81,4.50],[1991.58,4.50],[1991.78,4.20],[1991.97,4.50],[1992.88,4.50],[1993.01,6.30],
  [1993.21,5.99],[1993.40,5.78],[1993.53,5.99],[1993.66,5.57],[1993.79,6.14],[1993.99,4.52],[1994.18,5.15],
  [1994.29,6.46],[1994.44,5.67],[1994.64,4.52],[1995.29,4.50],[1995.38,6.35],[1995.55,4.73],[1995.87,4.50],
  [1997.04,4.50],[1997.17,4.88],[1997.30,4.50],[1998.08,4.50],[1998.21,4.88],[1998.34,4.50],[1998.60,4.62],
  [1998.79,6.20],[1998.99,5.67],[1999.18,5.15],[1999.38,5.72],[1999.64,4.62],[1999.96,4.50],[2000.46,4.47],
  [2000.71,4.31],[2000.91,4.20],[2001.17,4.73],[2001.36,4.50],[2002.93,4.43],[2003.99,4.50],[2004.15,4.78],
  [2004.28,4.50],[2004.87,4.50],[2005.10,5.25],[2005.26,4.50],[2006.56,4.31],[2006.88,3.94],[2007.14,4.50],
  [2007.34,4.62],[2007.49,6.20],[2007.66,4.50],[2007.92,4.50],[2008.25,5.15],[2008.51,5.99],[2008.70,4.62],
  [2008.90,4.50],[2009.23,4.52],[2009.38,5.62],[2009.55,4.50],[2009.81,4.57],[2010.00,4.50],[2010.33,4.62],
  [2010.45,4.73],[2010.71,4.50],[2011.10,4.41],[2011.20,4.88],[2011.36,4.62],[2011.68,4.41],[2011.95,4.36],
  [2012.21,4.50],[2013.05,4.41],[2013.31,4.20],[2013.57,4.62],[2013.70,4.50],[2014.61,4.50],[2014.74,4.36],
  [2014.94,4.50],[2015.52,4.62],[2015.71,4.50],[2015.91,5.04],[2016.01,5.83],[2016.17,4.62],[2016.36,4.50],
  [2017.21,4.50],[2017.34,4.94],[2017.53,4.50],[2018.38,4.47],[2018.64,4.15],[2018.90,4.52],[2019.16,4.62],
  [2019.42,5.83],[2019.61,4.50],[2020.00,4.50]
];
const trumanWA_c = [
  [1980.00,3.05],[1980.22,4.36],[1980.42,4.10],[1980.68,3.57],[1980.94,3.16],[1981.19,2.89],[1981.32,2.84],
  [1981.43,4.41],[1981.65,4.47],[1982.82,4.41],[1983.01,4.31],[1983.21,5.04],[1983.30,6.25],[1983.47,4.62],
  [1983.73,4.15],[1983.92,4.52],[1984.18,4.62],[1984.38,4.52],[1984.57,4.62],[1984.73,4.52],[1985.03,4.62],
  [1985.16,6.35],[1985.32,4.62],[1985.61,4.52],[1985.81,4.62],[1985.94,5.20],[1986.13,4.62],[1986.39,4.50],
  [1986.65,4.41],[1986.75,6.20],[1986.91,4.94],[1987.17,4.68],[1987.43,4.62],[1987.69,4.31],[1987.88,4.10],
  [1988.01,4.20],[1988.34,4.52],[1988.53,4.15],[1988.79,3.84],[1988.99,4.20],[1989.25,4.52],[1989.57,4.31],
  [1989.77,4.10],[1990.03,3.63],[1990.29,4.52],[1990.48,4.31],[1990.68,4.20],[1990.94,4.10],[1991.26,3.99],
  [1991.45,3.63],[1991.65,3.36],[1991.84,2.95],[1992.10,3.16],[1992.43,3.36],[1992.75,3.89],[1992.88,4.52],
  [1993.08,4.73],[1993.21,4.62],[1993.34,4.83],[1993.47,4.57],[1993.60,4.83],[1993.73,4.62],[1993.92,5.15],
  [1994.12,4.68],[1994.29,6.46],[1994.44,4.73],[1994.64,4.52],[1994.83,4.41],[1995.09,4.52],[1995.38,6.04],
  [1995.48,4.62],[1995.68,4.31],[1995.94,4.50],[1996.19,4.31],[1996.39,4.10],[1996.65,4.41],[1996.84,3.84],
  [1997.04,4.41],[1997.30,4.41],[1997.56,4.31],[1997.82,4.15],[1998.08,4.20],[1998.34,4.52],[1998.60,4.31],
  [1998.75,5.67],[1998.92,4.83],[1999.12,4.41],[1999.31,5.04],[1999.51,4.57],[1999.77,4.26],[1999.96,4.50],
  [2000.19,4.47],[2000.52,4.20],[2000.78,3.57],[2001.04,3.26],[2001.23,4.31],[2001.36,4.57],[2001.55,4.41],
  [2001.81,4.31],[2002.01,4.15],[2002.20,4.05],[2002.34,4.78],[2002.53,4.41],[2002.72,3.99],[2002.99,3.47],
  [2003.24,3.78],[2003.44,4.05],[2003.70,3.68],[2003.83,3.68],[2004.03,4.50],[2004.28,4.57],[2004.67,4.62],
  [2004.87,4.62],[2005.06,4.47],[2005.39,4.52],[2005.65,4.41],[2005.91,4.15],[2006.17,3.89],[2006.43,3.57],
  [2006.69,3.26],[2006.88,2.68],[2007.08,3.10],[2007.27,4.20],[2007.36,4.41],[2007.47,6.40],[2007.59,4.41],
  [2007.79,4.52],[2007.99,4.31],[2008.25,4.52],[2008.44,4.83],[2008.64,4.47],[2008.96,4.52],[2009.22,4.73],
  [2009.42,4.52],[2009.81,4.52],[2010.00,4.41],[2010.27,4.62],[2010.45,4.52],[2010.84,4.41],[2011.10,4.31],
  [2011.36,4.52],[2011.55,3.78],[2011.82,3.57],[2012.01,4.10],[2012.21,3.57],[2012.47,3.26],[2012.73,3.63],
  [2012.99,3.16],[2013.18,4.41],[2013.44,4.52],[2013.70,4.31],[2013.96,4.20],[2014.22,3.94],[2014.48,3.78],
  [2014.68,3.47],[2014.87,3.57],[2015.32,3.57],[2015.45,4.41],[2015.65,4.47],[2015.91,4.05],[2016.04,4.52],
  [2016.30,4.41],[2016.49,4.15],[2016.69,3.99],[2016.82,3.84],[2017.08,4.31],[2017.27,4.62],[2017.47,4.36],
  [2017.73,4.31],[2017.99,3.99],[2018.25,3.78],[2018.44,3.47],[2018.64,3.21],[2018.83,3.57],[2019.03,4.52],
  [2019.22,4.73],[2019.35,5.15],[2019.55,4.52],[2020.00,4.47]
];
const trumanCH_d = [
  [1980.00,0.88],[1980.22,1.04],[1980.55,0.94],[1980.94,0.83],[1981.26,0.78],[1981.45,1.04],[1981.84,1.15],
  [1982.23,1.26],[1982.62,1.36],[1983.21,1.47],[1983.38,1.73],[1983.66,1.63],[1984.05,1.68],[1984.38,1.95],
  [1984.77,1.89],[1985.03,2.11],[1985.22,2.27],[1985.61,2.32],[1985.94,2.43],[1986.26,2.43],[1986.52,2.21],
  [1986.78,2.53],[1987.17,2.53],[1987.36,2.43],[1987.69,2.21],[1988.01,2.05],[1988.34,1.95],[1988.60,1.79],
  [1988.86,1.57],[1989.25,1.52],[1989.64,1.47],[1989.96,1.31],[1990.16,1.47],[1990.42,1.68],[1990.74,1.57],
  [1991.06,1.47],[1991.32,1.31],[1991.65,1.04],[1992.49,1.04],[1992.88,1.20],[1993.14,1.36],[1993.40,1.63],
  [1993.66,1.79],[1993.99,1.95],[1994.25,2.21],[1994.57,2.05],[1994.83,1.89],[1995.22,1.79],[1995.48,1.68],
  [1995.81,1.57],[1996.13,1.47],[1996.52,1.36],[1996.78,1.31],[1997.04,1.36],[1997.36,1.47],[1997.75,1.57],
  [1998.34,1.57],[1998.66,1.79],[1998.99,1.89],[1999.38,2.21],[1999.64,2.05],[1999.96,1.84],[2000.26,1.79],
  [2000.58,1.57],[2000.91,1.36],[2001.10,1.23],[2001.36,1.41],[2002.14,1.31],[2002.40,1.47],[2003.05,1.20],
  [2003.70,1.10],[2004.28,1.36],[2004.61,1.47],[2005.13,1.79],[2005.78,1.63],[2006.43,1.26],[2006.88,0.99],
  [2007.40,1.36],[2007.59,1.52],[2007.92,1.36],[2008.51,1.73],[2009.16,1.73],[2009.42,2.00],[2010.00,1.95],
  [2010.45,2.16],[2010.97,1.89],[2011.23,1.79],[2011.43,1.89],[2011.68,1.63],[2012.27,1.52],[2012.79,1.20],
  [2012.99,1.10],[2013.44,1.36],[2014.09,1.31],[2014.74,1.10],[2015.32,1.04],[2015.84,1.26],[2016.04,1.52],
  [2016.69,1.47],[2017.14,1.31],[2017.40,1.47],[2018.05,1.31],[2018.64,0.99],[2019.16,1.26],[2019.42,1.57],
  [2020.00,1.52]
];
const trumanSA_d = [
  [1980.00,1.84],[1980.26,2.64],[1980.48,2.53],[1980.68,2.32],[1980.94,1.89],[1981.13,1.73],[1981.32,1.79],
  [1981.43,2.74],[1981.52,3.22],[1981.71,2.55],[1983.21,2.55],[1983.34,3.70],[1983.47,3.02],[1983.66,2.55],
  [1984.12,2.55],[1984.31,3.86],[1984.51,3.28],[1984.77,2.55],[1985.03,2.55],[1985.16,4.34],[1985.29,3.91],
  [1985.48,3.81],[1985.74,2.55],[1985.94,4.13],[1986.13,3.49],[1986.32,2.55],[1986.58,2.55],[1986.78,4.87],
  [1986.97,3.38],[1987.23,3.97],[1987.43,2.55],[1988.01,2.55],[1988.21,3.06],[1988.40,2.55],[1989.77,2.55],
  [1990.09,2.74],[1990.42,4.13],[1990.61,3.06],[1990.81,2.55],[1991.58,2.55],[1991.91,2.00],[1992.10,2.55],
  [1992.88,2.55],[1992.95,4.45],[1993.21,4.23],[1993.40,4.34],[1993.53,4.13],[1993.66,4.50],[1993.79,4.23],
  [1993.99,3.17],[1994.18,4.23],[1994.29,4.77],[1994.44,3.17],[1994.64,2.55],[1995.22,2.55],[1995.38,4.77],
  [1995.55,2.64],[1995.87,2.55],[1997.01,2.55],[1997.14,3.12],[1997.30,2.55],[1998.08,2.55],[1998.21,3.06],
  [1998.34,2.55],[1998.60,2.55],[1998.79,4.39],[1998.99,3.49],[1999.18,3.17],[1999.38,4.29],[1999.57,2.64],
  [1999.96,2.55],[2000.62,2.55],[2000.71,2.32],[2000.97,2.00],[2001.17,2.90],[2001.36,2.55],[2002.27,2.55],
  [2002.44,2.96],[2002.59,2.55],[2002.79,2.37],[2003.05,2.21],[2003.24,2.55],[2004.11,2.55],[2004.26,3.01],
  [2004.41,2.55],[2004.87,2.55],[2005.13,3.54],[2005.32,2.55],[2006.56,2.32],[2006.88,1.68],[2007.14,2.55],
  [2007.34,2.74],[2007.49,4.29],[2007.66,2.55],[2007.92,2.55],[2008.25,3.70],[2008.51,4.39],[2008.70,2.96],
  [2008.90,2.55],[2009.23,2.85],[2009.39,3.86],[2009.55,2.55],[2009.81,2.74],[2010.00,2.55],[2010.26,2.74],
  [2010.43,3.01],[2010.58,2.55],[2011.10,2.55],[2011.20,3.06],[2011.36,2.55],[2011.68,2.53],[2011.88,2.21],
  [2012.08,2.55],[2012.79,2.55],[2013.05,2.32],[2013.31,1.84],[2013.50,2.55],[2014.22,2.55],[2014.61,2.21],
  [2014.81,2.55],[2015.91,2.53],[2016.01,4.02],[2016.17,2.55],[2017.21,2.55],[2017.34,3.12],[2017.53,2.55],
  [2018.25,2.55],[2018.64,2.00],[2018.90,2.55],[2019.16,2.55],[2019.42,3.97],[2019.61,2.55],[2020.00,2.55]
];
const trumanWA_d = [
  [1980.00,0.94],[1980.26,1.47],[1980.48,1.20],[1980.81,0.94],[1981.13,0.83],[1981.32,0.78],[1981.45,1.57],
  [1981.58,1.47],[1981.78,1.63],[1981.97,1.63],[1982.17,2.43],[1982.36,2.37],[1982.56,2.21],[1982.82,2.27],
  [1983.01,2.53],[1983.21,2.48],[1983.30,3.17],[1983.47,2.43],[1983.66,1.89],[1983.86,2.21],[1984.18,2.48],
  [1984.44,2.43],[1984.64,2.11],[1984.83,2.43],[1985.03,2.43],[1985.16,4.34],[1985.29,2.74],[1985.48,2.53],
  [1985.74,2.69],[1985.94,2.43],[1986.13,2.48],[1986.39,2.43],[1986.58,2.32],[1986.75,5.56],[1986.91,3.28],
  [1987.10,2.32],[1987.36,2.00],[1987.69,1.89],[1988.01,2.21],[1988.21,2.32],[1988.47,2.00],[1988.79,1.63],
  [1988.99,1.79],[1989.18,1.95],[1989.51,1.79],[1989.77,1.63],[1990.03,1.52],[1990.29,2.32],[1990.48,2.16],
  [1990.74,1.89],[1991.06,1.68],[1991.32,1.47],[1991.58,1.10],[1991.84,1.04],[1992.10,1.26],[1992.36,1.10],
  [1992.62,1.26],[1992.88,2.21],[1993.08,1.89],[1993.27,2.21],[1993.47,1.79],[1993.66,2.43],[1993.86,1.79],
  [1994.05,2.11],[1994.29,3.33],[1994.44,2.00],[1994.70,1.79],[1994.96,1.68],[1995.22,1.57],[1995.42,2.21],
  [1995.61,1.68],[1995.87,1.47],[1996.13,1.36],[1996.45,1.47],[1996.71,1.26],[1996.91,2.00],[1997.17,1.84],
  [1997.43,2.11],[1997.69,1.95],[1997.95,2.11],[1998.21,2.43],[1998.47,2.21],[1998.70,2.74],[1998.86,2.43],
  [1999.12,2.53],[1999.31,2.80],[1999.51,2.21],[1999.83,1.89],[1999.93,2.16],[2000.19,2.32],[2000.45,1.89],
  [2000.71,1.57],[2000.97,1.36],[2001.23,1.79],[2001.43,2.43],[2001.88,2.00],[2002.14,1.79],[2002.34,2.53],
  [2002.53,1.89],[2002.79,1.47],[2003.05,1.31],[2003.44,1.63],[2003.90,1.36],[2004.15,2.43],[2005.13,2.32],
  [2005.39,2.43],[2005.65,2.21],[2005.91,1.95],[2006.17,1.57],[2006.43,1.41],[2006.69,1.15],[2006.88,0.99],
  [2007.08,1.36],[2007.27,1.79],[2007.47,3.49],[2007.59,2.11],[2008.05,1.79],[2008.25,2.32],[2008.44,2.43],
  [2008.77,2.27],[2009.03,2.43],[2009.22,2.64],[2009.42,2.43],[2010.00,2.53],[2010.26,2.59],[2010.84,2.43],
  [2011.10,2.21],[2011.36,2.00],[2011.56,1.68],[2011.75,1.36],[2012.01,1.79],[2012.27,2.27],[2012.53,1.79],
  [2012.79,1.57],[2012.99,1.41],[2013.18,2.11],[2013.38,2.43],[2013.57,2.21],[2013.83,2.00],[2014.09,1.79],
  [2014.35,1.57],[2014.61,1.36],[2014.87,1.31],[2015.39,1.31],[2015.58,2.43],[2015.78,2.00],[2016.04,2.53],
  [2016.30,2.00],[2016.56,1.79],[2016.82,1.57],[2017.08,2.11],[2017.34,2.48],[2017.60,2.21],[2017.86,2.00],
  [2018.12,1.79],[2018.38,1.57],[2018.64,1.10],[2018.90,1.36],[2019.09,2.00],[2019.29,2.64],[2019.55,2.21],
  [2019.81,1.89],[2020.00,2.00]
];

// ---- layout ----
const PAGE_W = 1892;
const SERIF = '"Liberation Serif", "Times New Roman", serif';
const lineStyles = [
  { width: 3.5, dash: [] },
  { width: 4, dash: [18, 7] },
  { width: 3, dash: [] },
  { width: 2.9, dash: [] },
  { width: 3.1, dash: [] }
];

const panels = [
  { tag: '(a)', top: 84, bottom: 464, left: 164, right: 1878, yMax: 3, yTicks: yTicksYellowtail,
    showYears: false, arrow: true,
    series: [yellowtailObserved, yellowtailDH, yellowtailCH_a, yellowtailSA_a, yellowtailWA_a],
    head: 'Calibrated against storage anomaly', headX: 242, kgeX: 230, eqX: 382,
    valRight: [552, 703, 833, 961], rows: [21, 66, 109], cal: kgeCalA, val: kgeValA, tagRight: 1864 },
  { tag: '(b)', top: 531, bottom: 911, left: 164, right: 1878, yMax: 3, yTicks: yTicksYellowtail,
    showYears: false, arrow: false,
    series: [yellowtailObserved, yellowtailDH, yellowtailCH_b, yellowtailSA_b, yellowtailWA_b],
    head: 'Calibrated against estimated storage', headX: 246, kgeX: 230, eqX: 382,
    valRight: [552, 703, 833, 961], rows: [21, 66, 109], cal: kgeCalB, val: kgeValB, tagRight: 1864 },
  { tag: '(c)', top: 1025, bottom: 1406, left: 160, right: 1873, yMax: 12, yTicks: yTicksTruman,
    showYears: false, arrow: false,
    series: [trumanObserved, trumanDH, trumanCH_c, trumanSA_c, trumanWA_c],
    head: 'Calibrated against storage anomaly', headX: 231, kgeX: 224, eqX: 375,
    valRight: [524, 651, 779, 908], rows: [33, 81, 144], cal: kgeCalC, val: kgeValC, tagRight: 1853 },
  { tag: '(d)', top: 1472, bottom: 1854, left: 160, right: 1873, yMax: 12, yTicks: yTicksTruman,
    showYears: true, arrow: false,
    series: [trumanObserved, trumanDH, trumanCH_d, trumanSA_d, trumanWA_d],
    head: 'Calibrated against estimated storage', headX: 241, kgeX: 224, eqX: 375,
    valRight: [524, 651, 779, 908], rows: [34, 81, 145], cal: kgeCalD, val: kgeValD, tagRight: 1853 }
];

// text helper: y is the visual centre of capital letters
function addText(html, x, y, size, opts = {}) {
  const d = document.createElement('div');
  d.className = 't' + (opts.cls ? ' ' + opts.cls : '');
  d.innerHTML = html;
  d.style.fontSize = size + 'px';
  d.style.left = x + 'px';
  d.style.top = (y - size * 0.5) + 'px';
  if (opts.color) d.style.color = opts.color;
  if (opts.align === 'right') d.style.transform = 'translateX(-100%)';
  if (opts.align === 'center') d.style.transform = 'translateX(-50%)';
  document.body.appendChild(d);
  return d;
}

const decorPlugin = {
  id: 'decor',
  afterDatasetsDraw(chart, args, opts) {
    const { ctx, chartArea: a, scales: { x, y } } = chart;
    ctx.save();
    const xs = x.getPixelForValue(splitYear);
    ctx.strokeStyle = '#000';
    ctx.lineWidth = 2;
    ctx.setLineDash([7, 4]);
    ctx.beginPath();
    ctx.moveTo(xs, a.top);
    ctx.lineTo(xs, a.bottom);
    ctx.stroke();
    ctx.setLineDash([]);
    if (opts.arrow) {
      const x0 = x.getPixelForValue(arrowFrom), x1 = x.getPixelForValue(arrowTo);
      const ya = y.getPixelForValue(arrowLevel);
      ctx.strokeStyle = '#cc5ec8';
      ctx.lineWidth = 2.5;
      ctx.beginPath();
      ctx.moveTo(x0, ya); ctx.lineTo(x1, ya);
      ctx.moveTo(x0 + 11, ya - 7); ctx.lineTo(x0, ya); ctx.lineTo(x0 + 11, ya + 7);
      ctx.moveTo(x1 - 11, ya - 7); ctx.lineTo(x1, ya); ctx.lineTo(x1 - 11, ya + 7);
      ctx.stroke();
    }
    ctx.strokeStyle = '#000';
    ctx.lineWidth = 2;
    ctx.strokeRect(a.left, a.top, a.right - a.left, a.bottom - a.top);
    ctx.restore();
  }
};

function buildPanel(p) {
  const padTop = 30, yAxisW = 60;
  const axisH = p.showYears ? 70 : 20, padBottom = p.showYears ? 10 : 6;
  const h = padTop + (p.bottom - p.top) + axisH + padBottom;
  const holder = document.createElement('div');
  holder.className = 'panel';
  holder.style.top = (p.top - padTop) + 'px';
  holder.style.width = PAGE_W + 'px';
  holder.style.height = h + 'px';
  const canvas = document.createElement('canvas');
  canvas.width = PAGE_W;
  canvas.height = h;
  canvas.style.width = PAGE_W + 'px';
  canvas.style.height = h + 'px';
  holder.appendChild(canvas);
  document.body.appendChild(holder);

  const datasets = p.series.map((s, i) => ({
    label: seriesNames[i],
    data: s.map(pt => ({ x: pt[0], y: pt[1] })),
    borderColor: seriesColors[i],
    borderWidth: lineStyles[i].width,
    borderDash: lineStyles[i].dash,
    borderJoinStyle: 'round',
    pointRadius: 0,
    tension: 0,
    fill: false,
    order: 5 - i
  }));

  new Chart(canvas, {
    type: 'line',
    data: { datasets },
    options: {
      responsive: false,
      animation: false,
      devicePixelRatio: 1,
      events: [],
      layout: { padding: { left: p.left - yAxisW, right: PAGE_W - p.right, top: padTop, bottom: padBottom } },
      plugins: { legend: { display: false }, tooltip: { enabled: false }, decor: { arrow: p.arrow } },
      scales: {
        x: {
          type: 'linear', min: 1980, max: 2019.92,
          afterBuildTicks: s => { s.ticks = xTickYears.map(v => ({ value: v })); },
          afterFit: s => { s.height = axisH; },
          ticks: {
            autoSkip: false, maxRotation: 0, minRotation: 0, padding: 8, color: '#000',
            font: { family: SERIF, size: 40 },
            callback: v => (p.showYears && v % 5 === 0) ? String(v) : ''
          },
          grid: { drawOnChartArea: false, drawTicks: true, tickLength: 9, color: '#000', lineWidth: 1.5 },
          border: { display: false }
        },
        y: {
          type: 'linear', min: 0, max: p.yMax,
          afterBuildTicks: s => { s.ticks = p.yTicks.map(v => ({ value: v })); },
          afterFit: s => { s.width = yAxisW; },
          ticks: { padding: 6, color: '#000', font: { family: SERIF, size: 40 }, callback: v => String(v) },
          grid: { drawOnChartArea: false, drawTicks: true, tickLength: 9, color: '#000', lineWidth: 1.5 },
          border: { display: false }
        }
      }
    },
    plugins: [decorPlugin]
  });

  // annotation block
  const r = p.rows.map(o => p.top + o);
  addText(p.head, p.headX, r[0], 42);
  [[r[1], 'cal', p.cal], [r[2], 'val', p.val]].forEach(([yy, sub, vals]) => {
    addText('KGE', p.kgeX, yy, 42);
    addText(sub, p.kgeX + 88, yy + 10, 30, { cls: 'sub' });
    addText('=', p.eqX, yy, 42);
    vals.forEach((v, i) => addText(v, p.valRight[i], yy, 42, { align: 'right', color: seriesColors[i + 1] }));
  });
  addText(p.tag, p.tagRight, p.top + 47, 56, { align: 'right' });
}

panels.forEach(buildPanel);

// titles and axis labels
addText('Yellowtail Dam', 986, 38, 51, { align: 'center' });
addText('Harry S. Truman Dam', 955, 978, 51, { align: 'center' });
addText('Time [month]', 1012, 1932, 41, { align: 'center' });
addText('Calibration', 1248, 112, 41);
addText('Validation', 1470, 112, 41);
[497, 1439].forEach(cy => {
  const d = document.createElement('div');
  d.className = 'ylab';
  d.innerHTML = 'Storage [×10<sup>9</sup> m<sup>3</sup>]';
  d.style.left = '48px';
  d.style.top = cy + 'px';
  document.body.appendChild(d);
});

// legend inside panel (d)
const legendRows = [1498, 1541, 1583, 1625, 1668];
seriesNames.forEach((name, i) => {
  const ln = document.createElement('div');
  ln.className = 'legline';
  const w = lineStyles[i].width;
  ln.style.left = '1487px';
  ln.style.width = '87px';
  ln.style.top = (legendRows[i] - w / 2) + 'px';
  ln.style.height = w + 'px';
  ln.style.background = lineStyles[i].dash.length
    ? `repeating-linear-gradient(90deg, ${seriesColors[i]} 0 20px, transparent 20px 28px)`
    : seriesColors[i];
  document.body.appendChild(ln);
  addText(name, 1593, legendRows[i], 41);
});
</script>
</body>
</html>
